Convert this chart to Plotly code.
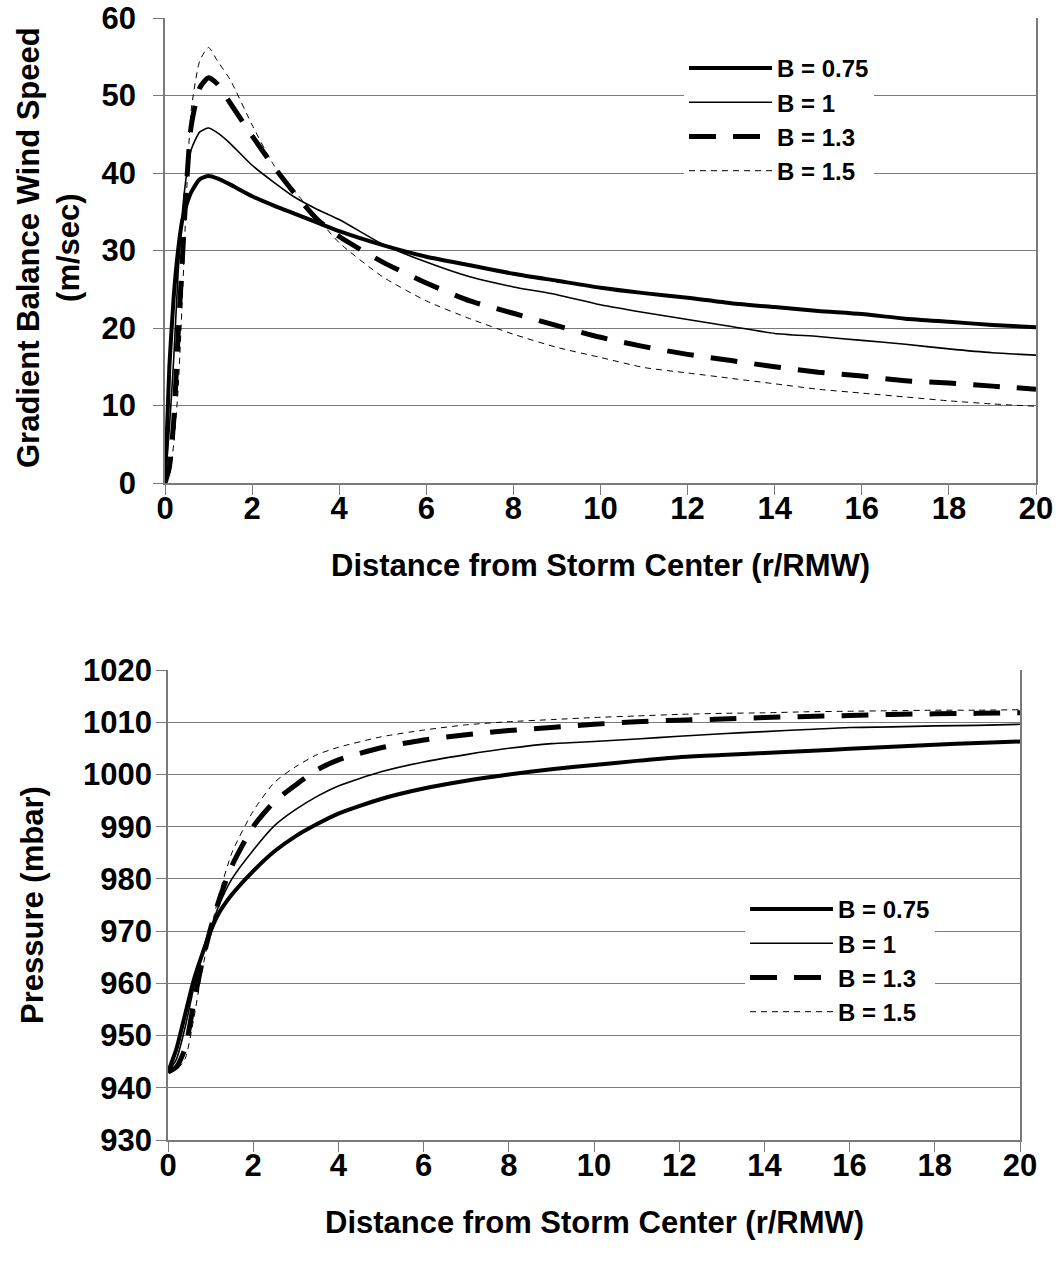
import plotly.graph_objects as go

W, H = 1060, 1269

# ---------------- data ----------------
r_wind = [0, 0.1, 0.2, 0.3, 0.4, 0.5, 0.6, 0.8, 1.0, 1.2, 1.5, 2, 2.5, 3, 3.5, 4,
          5, 6, 7, 8, 9, 10, 11, 12, 13, 14, 15, 16, 17, 18, 19, 20]
wind_b075 = [0, 15, 24, 30, 34, 36, 37.5, 39.2, 39.6, 39.3, 38.5, 37.0, 35.8, 34.7, 33.6, 32.5,
             30.7, 29.2, 28.1, 27.0, 26.1, 25.2, 24.5, 23.9, 23.2, 22.7, 22.2, 21.8, 21.2, 20.8, 20.4, 20.1]
wind_b100 = [0, 7, 16, 27, 35, 40, 43, 45.3, 45.8, 45.2, 43.8, 41.0, 38.8, 36.8, 35.3, 34.0,
             30.8, 28.5, 26.6, 25.3, 24.3, 23.0, 22.0, 21.1, 20.2, 19.3, 18.9, 18.4, 17.9, 17.3, 16.8, 16.5]
wind_b130 = [0, 2, 8, 19, 29, 39, 46, 51, 52.3, 51.5, 49.0, 44.8, 40.8, 37.2, 34.0, 31.8,
             28.5, 25.8, 23.5, 21.9, 20.3, 18.8, 17.6, 16.6, 15.8, 15.0, 14.3, 13.8, 13.2, 12.9, 12.5, 12.1]
wind_b150 = [0, 1, 5, 12, 24, 38, 48, 54.5, 56.2, 54.5, 52.0, 46.2, 41.0, 37.5, 34.2, 31.0,
             26.6, 23.5, 21.2, 19.2, 17.5, 16.2, 14.9, 14.2, 13.5, 12.8, 12.1, 11.6, 11.1, 10.6, 10.2, 9.9]

r_pres = [0, 0.2, 0.4, 0.6, 0.8, 1.0, 1.2, 1.5, 2, 2.5, 3, 3.5, 4, 5, 6, 7, 8, 9, 10,
          11, 12, 13, 14, 15, 16, 17, 18, 19, 20]
pres_b075 = [943, 947.5, 954, 960.5, 965.5, 970, 973.5, 977, 981.5, 985.3, 988.2, 990.5, 992.5,
             995.3, 997.3, 998.8, 1000.0, 1001.0, 1001.8, 1002.6, 1003.3, 1003.7, 1004.1, 1004.5,
             1004.9, 1005.3, 1005.7, 1006.0, 1006.3]
pres_b100 = [943, 945.5, 951.5, 959, 965.5, 970.5, 975, 980, 985.5, 990.2, 993.3, 995.8, 997.8,
             1000.5, 1002.4, 1003.8, 1005.0, 1005.9, 1006.3, 1006.8, 1007.3, 1007.8, 1008.2, 1008.6,
             1009.0, 1009.1, 1009.3, 1009.4, 1009.6]
pres_b130 = [943, 944, 947.5, 956, 964, 970.5, 976, 982.5, 990, 994.8, 998, 1000.9, 1002.8,
             1005.1, 1006.6, 1007.6, 1008.4, 1009.0, 1009.6, 1010.1, 1010.4, 1010.6, 1010.9, 1011.1,
             1011.3, 1011.5, 1011.6, 1011.7, 1011.8]
pres_b150 = [943, 943.5, 945.5, 953, 962.5, 970, 977, 985, 993, 998.5, 1001.5, 1003.8, 1005.2,
             1007.2, 1008.5, 1009.5, 1010.1, 1010.5, 1010.9, 1011.2, 1011.5, 1011.7, 1011.8, 1012.0,
             1012.1, 1012.2, 1012.3, 1012.3, 1012.4]

series_names = ["B = 0.75", "B = 1", "B = 1.3", "B = 1.5"]
x_ticks = [0, 2, 4, 6, 8, 10, 12, 14, 16, 18, 20]
wind_ticks = [0, 10, 20, 30, 40, 50, 60]
pres_ticks = [930, 940, 950, 960, 970, 980, 990, 1000, 1010, 1020]

# ---------------- styles ----------------
styles = [
    dict(color="black", width=4),
    dict(color="black", width=1.6),
    dict(color="black", width=5, dash="27px,17px"),
    dict(color="black", width=1, dash="6px,5px"),
]
FONT = "Liberation Sans, Arial, sans-serif"
GRID = "#7a7a7a"

fig = go.Figure()
for name, ys, st in zip(series_names, [wind_b075, wind_b100, wind_b130, wind_b150], styles):
    fig.add_trace(go.Scatter(x=r_wind, y=ys, mode="lines", name=name,
                             line=dict(shape="spline", smoothing=0.6, **st),
                             xaxis="x", yaxis="y", legend="legend"))
for name, ys, st in zip(series_names, [pres_b075, pres_b100, pres_b130, pres_b150], styles):
    fig.add_trace(go.Scatter(x=r_pres, y=ys, mode="lines", name=name,
                             line=dict(shape="spline", smoothing=0.6, **st),
                             xaxis="x2", yaxis="y2", legend="legend2"))


def px_x(p):
    return p / W


def px_y(p):
    return 1 - p / H


tickfont = dict(family=FONT, size=31, color="black", weight="bold")
common_x = dict(range=[0, 20], tickvals=x_ticks, ticks="outside", ticklen=10, tickcolor=GRID,
                showline=True, linecolor=GRID, linewidth=1.5, showgrid=False, zeroline=False,
                tickfont=tickfont, ticklabelstandoff=-13, automargin=False)
common_y = dict(ticks="outside", ticklen=10, tickcolor=GRID, showline=True, linecolor=GRID, linewidth=1.5,
                mirror=True, showgrid=True, gridcolor=GRID, gridwidth=1, zeroline=False,
                tickfont=tickfont, automargin=False)

legend_font = dict(family=FONT, size=24, color="black", weight="bold")

fig.update_layout(
    width=W, height=H,
    margin=dict(l=0, r=0, t=0, b=0, autoexpand=False),
    paper_bgcolor="white", plot_bgcolor="white",
    showlegend=True,
    xaxis=dict(domain=[px_x(165), px_x(1036)], anchor="y", **common_x),
    yaxis=dict(domain=[px_y(483), px_y(18)], anchor="x", range=[0, 60], tickvals=wind_ticks,
               ticklabelstandoff=11, **common_y),
    xaxis2=dict(domain=[px_x(168), px_x(1020)], anchor="y2", **common_x),
    yaxis2=dict(domain=[px_y(1140), px_y(670)], anchor="x2", range=[930, 1020], tickvals=pres_ticks,
                ticklabelstandoff=-2, **common_y),
    legend=dict(x=px_x(684), y=px_y(46), xanchor="left", yanchor="top", bgcolor="white",
                font=legend_font, itemwidth=83, tracegroupgap=0),
    legend2=dict(x=px_x(745), y=px_y(887), xanchor="left", yanchor="top", bgcolor="white",
                 font=legend_font, itemwidth=83, tracegroupgap=0),
)

title_font = dict(family=FONT, size=31, color="black", weight="bold")
fig.add_annotation(text="Gradient Balance Wind Speed<br>(m/sec)", xref="paper", yref="paper",
                   x=px_x(48), y=px_y(248), textangle=-90, showarrow=False, font=title_font,
                   xanchor="center", yanchor="middle")
fig.add_annotation(text="Distance from Storm Center (r/RMW)", xref="paper", yref="paper",
                   x=px_x(600), y=px_y(565), showarrow=False, font=title_font,
                   xanchor="center", yanchor="middle")
fig.add_annotation(text="Pressure (mbar)", xref="paper", yref="paper",
                   x=px_x(32), y=px_y(905), textangle=-90, showarrow=False, font=title_font,
                   xanchor="center", yanchor="middle")
fig.add_annotation(text="Distance from Storm Center (r/RMW)", xref="paper", yref="paper",
                   x=px_x(594), y=px_y(1222), showarrow=False, font=title_font,
                   xanchor="center", yanchor="middle")

fig.write_html("out.html")
